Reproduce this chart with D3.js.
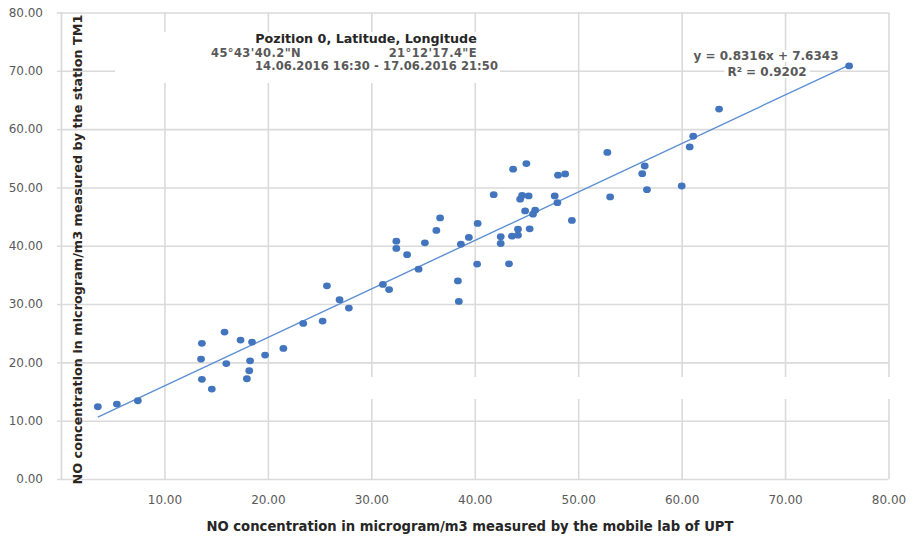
<!DOCTYPE html>
<html>
<head>
<meta charset="utf-8">
<script src="https://cdn.jsdelivr.net/npm/d3@7"></script>
<style>
  html, body { margin: 0; padding: 0; background: #fff; }
  svg { display: block; }
</style>
</head>
<body>
<svg id="chart" width="913" height="543"></svg>
<script>
// ---- data ----
const mobileLab = [3.56, 5.40, 7.43, 13.62, 13.54, 13.62, 14.58, 15.81, 15.98, 17.36,
  18.47, 18.28, 18.20, 17.97, 19.73, 21.50, 23.42, 25.29, 26.93, 27.83,
  25.71, 31.12, 31.72, 32.42, 32.42, 33.46, 34.57, 35.18, 36.29, 36.65,
  38.37, 38.46, 38.66, 39.43, 40.23, 40.28, 41.83, 42.51, 42.51, 43.31,
  43.59, 44.18, 44.18, 43.71, 44.99, 44.39, 44.58, 45.21, 44.87, 45.63,
  45.84, 45.31, 47.73, 47.99, 48.05, 48.74, 49.39, 52.82, 53.09, 56.43,
  56.19, 56.65, 60.01, 60.78, 61.12, 63.62, 76.19];
const stationTM1 = [12.39, 12.85, 13.42, 23.26, 20.57, 17.09, 15.42, 25.19, 19.79, 23.82,
  23.48, 20.27, 18.56, 17.19, 21.25, 22.40, 26.68, 27.08, 30.76, 29.31,
  33.13, 33.37, 32.48, 40.79, 39.54, 38.47, 35.99, 40.50, 42.62, 44.78,
  33.97, 30.45, 40.27, 41.42, 36.85, 43.82, 48.76, 41.56, 40.39, 36.90,
  41.65, 41.82, 42.84, 53.13, 54.10, 47.99, 48.62, 48.55, 45.98, 45.42,
  46.10, 42.90, 48.55, 47.39, 52.10, 52.32, 44.35, 56.01, 48.38, 53.68,
  52.36, 49.61, 50.25, 56.95, 58.78, 63.44, 70.83];
const trendSlope = 0.8316;
const trendIntercept = 7.6343;
const xTicks = [10, 20, 30, 40, 50, 60, 70, 80];
const yTicks = [0, 10, 20, 30, 40, 50, 60, 70, 80];
const titleLines = ["Pozition 0, Latitude, Longitude", "45°43'40.2\"N", "21°12'17.4\"E", "14.06.2016 16:30 - 17.06.2016 21:50"];
const equationLines = ["y = 0.8316x + 7.6343", "R² = 0.9202"];
const xTitle = "NO concentration in microgram/m3 measured by the mobile lab of UPT";
const yTitle = "NO concentration in microgram/m3 measured by the station TM1";

// ---- layout ----
const svg = d3.select("#chart");
const pLeft = 61, pRight = 888.5, pTop = 12.5, pBottom = 479;
const x = d3.scaleLinear().domain([0, 80]).range([pLeft, pRight]);
const y = d3.scaleLinear().domain([0, 80]).range([pBottom, pTop]);
const fmt = d3.format(".2f");
const gridColor = "#dadada";
const tickFont = "'DejaVu Sans', sans-serif";
const textFont = "'DejaVu Sans', sans-serif";

// vertical gridlines
const gx = svg.append("g").attr("transform", `translate(0,${pBottom})`)
  .call(d3.axisBottom(x).tickValues([0].concat(xTicks)).tickSize(-(pBottom - pTop)).tickFormat(""));
gx.select(".domain").remove();
gx.selectAll("line").attr("stroke", gridColor).attr("stroke-width", 1.6);

// white band interrupting vertical gridlines (as in the reference)
svg.append("rect").attr("x", x(23)).attr("y", 377).attr("width", pRight - x(23) + 3).attr("height", 22).attr("fill", "#fff");

// horizontal gridlines
const gy = svg.append("g").attr("transform", `translate(${pLeft},0)`)
  .call(d3.axisLeft(y).tickValues(yTicks).tickSize(-(pRight - pLeft)).tickFormat(""));
gy.select(".domain").remove();
gy.selectAll("line").attr("stroke", gridColor).attr("stroke-width", 1.6);

// y axis labels + small outer ticks
const ya = svg.append("g").attr("transform", `translate(${pLeft},0)`)
  .call(d3.axisLeft(y).tickValues(yTicks).tickSize(4).tickPadding(14).tickFormat(fmt));
ya.select(".domain").attr("stroke", gridColor).attr("stroke-width", 1.2);
ya.selectAll("line").attr("stroke", gridColor).attr("stroke-width", 1.4);
ya.selectAll("text").attr("fill", "#595959").style("font-family", tickFont).style("font-size", "12px");

// x axis labels
const xa = svg.append("g").attr("transform", `translate(0,${pBottom})`)
  .call(d3.axisBottom(x).tickValues(xTicks).tickSize(0).tickPadding(16).tickFormat(fmt));
xa.select(".domain").remove();
xa.selectAll("text").attr("fill", "#595959").style("font-family", tickFont).style("font-size", "12px");

// title box (white, covering gridlines)
svg.append("rect").attr("x", 115).attr("y", 32).attr("width", 385).attr("height", 51).attr("fill", "#fff");

// trendline
const xr = d3.extent(mobileLab);
svg.append("line")
  .attr("x1", x(xr[0])).attr("y1", y(trendSlope * xr[0] + trendIntercept))
  .attr("x2", x(xr[1])).attr("y2", y(trendSlope * xr[1] + trendIntercept))
  .attr("stroke", "#5b8fd2").attr("stroke-width", 1.4);

// points
svg.append("g").selectAll("ellipse").data(mobileLab.map((d, i) => [d, stationTM1[i]]))
  .join("ellipse")
  .attr("cx", d => x(d[0])).attr("cy", d => y(d[1]))
  .attr("rx", 3.9).attr("ry", 3.4)
  .attr("fill", "#4275be");

// chart title block
const tb = svg.append("g").style("font-family", textFont).style("font-weight", "bold");
tb.append("text").attr("x", 366).attr("y", 42.5).attr("text-anchor", "middle")
  .style("font-size", "12.7px").attr("fill", "#262626").text(titleLines[0]);
tb.append("text").attr("x", 211).attr("y", 56.5)
  .style("font-size", "11.5px").style("letter-spacing", "0.4px").attr("fill", "#595959").text(titleLines[1]);
tb.append("text").attr("x", 477).attr("y", 56.5).attr("text-anchor", "end")
  .style("font-size", "11.5px").style("letter-spacing", "0.4px").attr("fill", "#595959").text(titleLines[2]);
tb.append("text").attr("x", 255).attr("y", 70)
  .style("font-size", "11.5px").style("letter-spacing", "0.1px").attr("fill", "#595959").text(titleLines[3]);

// equation label with white background
const eq = svg.append("g").style("font-family", textFont).style("font-weight", "bold");
const eqPos = [[766, 60], [767, 76]];
equationLines.forEach((t, i) => {
  const txt = eq.append("text").attr("x", eqPos[i][0]).attr("y", eqPos[i][1]).attr("text-anchor", "middle")
    .style("font-size", "12px").attr("fill", "#595959").text(t);
  const bb = txt.node().getBBox();
  eq.insert("rect", "text").attr("x", bb.x - 3).attr("y", bb.y + 1).attr("width", bb.width + 6).attr("height", bb.height - 2)
    .attr("fill", "#fff");
});

// axis titles
svg.append("text").attr("x", 470).attr("y", 531).attr("text-anchor", "middle")
  .style("font-family", textFont).style("font-size", "13.2px").style("font-weight", "bold")
  .attr("fill", "#262626").text(xTitle);
svg.append("text").attr("transform", `translate(82,${(12 + 487) / 2}) rotate(-90)`).attr("text-anchor", "middle")
  .style("font-family", textFont).style("font-size", "12.8px").style("font-weight", "bold")
  .attr("fill", "#2e2620").text(yTitle);
</script>
</body>
</html>
